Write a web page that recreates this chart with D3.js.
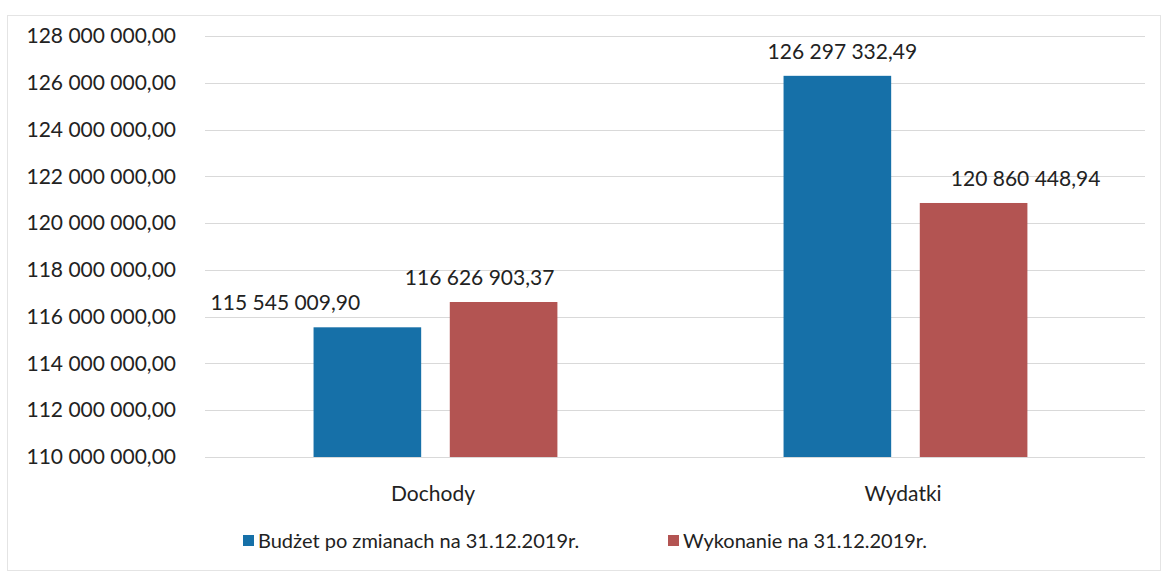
<!DOCTYPE html>
<html>
<head>
<meta charset="utf-8">
<script src="https://cdn.jsdelivr.net/npm/d3@7"></script>
<style>
  body { margin: 0; background: #fff; }
  text { font-family: Lato, "Open Sans", sans-serif; fill: #222; }
</style>
</head>
<body>
<script>
// data
const categories = ["Dochody", "Wydatki"];
const seriesNames = ["Budżet po zmianach na 31.12.2019r.", "Wykonanie na 31.12.2019r."];
const budzet = [115545009.90, 126297332.49];
const wykonanie = [116626903.37, 120860448.94];
const yTicks = [110e6, 112e6, 114e6, 116e6, 118e6, 120e6, 122e6, 124e6, 126e6, 128e6];

const colors = ["#1670a8", "#b35452"];
// labels were dragged around by hand in the original
const labelNudge = [[-82, -24], [5, 52]];

const width = 1167, height = 577;
const margin = {top: 36, right: 22, bottom: 120, left: 205};

const svg = d3.select("body").append("svg")
    .attr("width", width)
    .attr("height", height);

// faint outer frame
svg.append("rect")
    .attr("x", 7.5).attr("y", 15.5)
    .attr("width", 1153).attr("height", 555)
    .attr("fill", "none")
    .attr("stroke", "#e4e4e4");

const pl = d3.formatLocale({decimal: ",", thousands: "\u00a0", grouping: [3], currency: ["", ""]});
const fmt = pl.format(",.2f");

const y = d3.scaleLinear()
    .domain([110e6, 128e6])
    .range([457, margin.top]);

const x0 = d3.scaleBand()
    .domain(categories)
    .range([margin.left, width - margin.right])
    .paddingInner(0)
    .paddingOuter(0);

const x1 = d3.scaleBand()
    .domain([0, 1])
    .range([0, x0.bandwidth()])
    .paddingInner(0.21)
    .paddingOuter(0.83)
    .align(0.48);

// gridlines
svg.append("g")
    .selectAll("line")
    .data(yTicks)
    .join("line")
    .attr("x1", margin.left)
    .attr("x2", width - margin.right)
    .attr("y1", d => Math.round(y(d)) + 0.5)
    .attr("y2", d => Math.round(y(d)) + 0.5)
    .attr("stroke", "#d9d9d9")
    .attr("stroke-width", 1);

// y axis labels
const yAxis = d3.axisLeft(y)
    .tickValues(yTicks)
    .tickFormat(d => fmt(d))
    .tickSize(0)
    .tickPadding(0);

svg.append("g")
    .attr("transform", `translate(176,0)`)
    .call(yAxis)
    .call(g => g.select(".domain").remove())
    .call(g => g.selectAll("text")
        .attr("font-size", 21)
        .style("font-family", "Lato, sans-serif")
        .attr("fill", "#222"));

const series = [budzet, wykonanie];

// bars
categories.forEach((cat, ci) => {
    const g = svg.append("g").attr("transform", `translate(${x0(cat)},0)`);
    series.forEach((vals, si) => {
        g.append("rect")
            .attr("x", x1(si))
            .attr("width", x1.bandwidth())
            .attr("y", y(vals[ci]))
            .attr("height", y(110e6) - y(vals[ci]))
            .attr("fill", colors[si]);

        g.append("text")
            .attr("x", x1(si) + x1.bandwidth() / 2 + labelNudge[ci][si])
            .attr("y", y(vals[ci]) - 17)
            .attr("text-anchor", "middle")
            .attr("font-size", 21)
            .text(fmt(vals[ci]));
    });
});

// category axis
const xAxis = d3.axisBottom(x0).tickSize(0).tickPadding(0);
svg.append("g")
    .attr("transform", `translate(-7,486)`)
    .call(xAxis)
    .call(g => g.select(".domain").remove())
    .call(g => g.selectAll("text")
        .attr("font-size", 21)
        .style("font-family", "Lato, sans-serif")
        .attr("fill", "#222"));

// legend
const legendX = [243, 668];
const legend = svg.append("g");
seriesNames.forEach((name, i) => {
    legend.append("rect")
        .attr("x", legendX[i]).attr("y", 535)
        .attr("width", 11).attr("height", 11)
        .attr("fill", colors[i]);
    legend.append("text")
        .attr("x", legendX[i] + 15).attr("y", 548)
        .attr("font-size", 20)
        .text(name);
});
</script>
</body>
</html>
